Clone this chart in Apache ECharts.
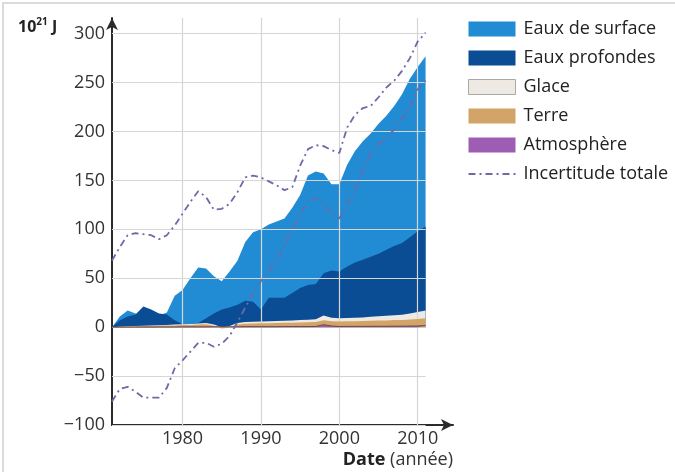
<!DOCTYPE html>
<html><head><meta charset="utf-8">
<script src="https://cdn.jsdelivr.net/npm/echarts@6/dist/echarts.min.js"></script>
<style>html,body{margin:0;padding:0;background:#fff}#c{width:675px;height:472px}</style>
</head><body><div id="c"></div><script>
// ---- data (10^21 J) ----
const years = [1971,1972,1973,1974,1975,1976,1977,1978,1979,1980,
  1981,1982,1983,1984,1985,1986,1987,1988,1989,1990,
  1991,1992,1993,1994,1995,1996,1997,1998,1999,2000,
  2001,2002,2003,2004,2005,2006,2007,2008,2009,2010,2011];
const atmosphere = [0,0,0,0.1,0.1,0.1,0.2,0.2,0.2,0.3,
  0.3,0.3,0.3,0.4,0.4,0.4,0.4,0.5,0.5,0.5,
  0.5,0.5,0.6,0.6,0.6,0.6,0.7,2.5,1.2,0.7,
  0.8,0.8,0.8,0.9,0.9,0.9,1,1,1.1,1.2,1.6];
const land = [0,0.3,0.6,0.8,1,1.1,1.2,1.4,1.6,1.8,
  2,2.4,2.8,1,-1.8,-0.8,2.2,3,3.2,3.4,
  3.6,3.7,3.8,4,4.2,4.4,4.6,4.5,4.9,5.1,
  5.2,5.3,5.4,5.6,5.8,6,6.2,6.4,6.8,7.2,7.5];
const ice = [0,0.1,0.2,0.3,0.4,0.5,0.6,0.7,0.8,0.9,
  1,1.1,1.2,1.3,1.4,1.5,1.6,1.7,1.8,1.9,
  2,2.1,2.2,2.3,2.4,2.5,2.7,5,3.5,3.2,
  3.4,3.6,3.8,4.1,4.4,4.7,5,5.4,6,7,8];
const deep = [0,6.6,10.2,11.8,19.5,16.3,12,10.7,4.4,0,
  0,0.5,4.7,11.3,18,18.9,18.8,21.8,20.5,12.2,
  23.9,23.7,23.4,28.1,32.8,35.5,36,43,48.4,48,
  52.6,56.3,59,61.4,63.9,67.4,70.8,73.2,78.1,82.6,85.9];
const surface = [0,4,6,1,-9,-6,-2,2,25,35,
  46.7,56.7,51,38,29,37,45,60,71,82,
  75,78,81,87,95,112,115,102,88,89,
  104,114,121,126,133,137,143,152,162,168,174];
const uncertHigh = [68,82,94,96,95,94,90,94,104,116,
  128,139,133,120,121,126,138,153,155,153,
  149,145,140,143,165,182,186,185,181,178,
  204,217,224,226,235,245,252,262,275,292,301];
const uncertLow = [-76,-63,-61,-66,-72,-72,-72,-62,-42,-34,
  -25,-16,-16,-20,-17,-9,5,20,35,47,
  58,68,84,100,116,129,132,126,116,111,
  125,140,160,178,187,194,202,213,225,243,252];
const yTicks = [-100,-50,0,50,100,150,200,250,300];
const xTicks = [1980,1990,2000,2010];
const names = ['Eaux de surface','Eaux profondes','Glace','Terre','Atmosphère','Incertitude totale'];

// ---- build ----
const FONT = '"Open Sans", "Noto Sans", sans-serif';
const cum = (...arrs) => years.map((y, i) => arrs.reduce((s, a) => s + a[i], 0));
const atmTop = cum(atmosphere);
const landTop = cum(atmosphere, land);
const iceTop = cum(atmosphere, land, ice);
const deepTop = cum(atmosphere, land, ice, deep);
const totalTop = cum(atmosphere, land, ice, deep, surface);
const pts = arr => years.map((y, i) => [y, +arr[i].toFixed(2)]);

const C = {surf:'#218bd3', deep:'#0b4d95', ice:'#eeeae3', land:'#d3a467', atm:'#9c5db3', unc:'#6c6aa8', grid:'#d6d6d6', axis:'#2b2b2b'};

function area(name, arr, color, z, line) {
  return {name, type:'line', data:pts(arr), symbol:'none', silent:true, z,
    lineStyle: line || {width:0}, itemStyle:{color}, areaStyle:{color, opacity:1}};
}
const unc = arr => ({name:names[5], type:'line', data:pts(arr), symbol:'none', silent:true, z:10,
  itemStyle:{color:C.unc}, lineStyle:{color:C.unc, width:1.8, type:[7,4,2,4]}});

const gridLines = [];
yTicks.forEach(v => gridLines.push([{coord:[years[0], v]}, {coord:[years[years.length-1], v]}]));
xTicks.forEach(v => gridLines.push([{coord:[v, -100]}, {coord:[v, 316]}]));

const dashIcon = 'path://M0,0h7v2h-7zM11,0h2v2h-2zM17,0h7v2h-7zM28,0h2v2h-2zM34,0h7v2h-7zM45,0h2v2h-2z';

const chart = echarts.init(document.getElementById('c'), null, {renderer:'canvas'});
chart.setOption({
  animation:false,
  backgroundColor:'#fff',
  grid:{left:112, right:222, top:18, bottom:47},
  xAxis:{type:'value', min:1971, max:2014.5,
    axisLine:{show:true, onZero:false, symbol:['none','arrow'], symbolSize:[9,12], lineStyle:{color:C.axis, width:2}},
    axisTick:{show:false}, splitLine:{show:false},
    axisLabel:{customValues:xTicks, formatter:v => String(v), fontSize:18, color:'#333', margin:5, fontFamily:FONT}},
  yAxis:{type:'value', min:-100, max:316,
    axisLine:{show:true, onZero:false, symbol:['none','arrow'], symbolSize:[9,12], lineStyle:{color:C.axis, width:2}},
    axisTick:{show:false}, splitLine:{show:false},
    axisLabel:{customValues:yTicks, formatter:v => String(v).replace('-', '\u2212'), fontSize:18, color:'#333', margin:7, fontFamily:FONT}},
  legend:{orient:'vertical', left:463, top:14, itemWidth:47, itemHeight:15, itemGap:9,
    textStyle:{fontSize:18, color:'#222', fontFamily:FONT, lineHeight:20, padding:[0,0,0,3]},
    data:[
      {name:names[0], icon:'rect'},
      {name:names[1], icon:'rect'},
      {name:names[2], icon:'rect', itemStyle:{borderColor:'#a8a8a8', borderWidth:1}},
      {name:names[3], icon:'rect'},
      {name:names[4], icon:'rect'},
      {name:names[5], icon:dashIcon}
    ]},
  series:[
    {type:'line', data:[], silent:true, z:1,
      markLine:{silent:true, symbol:['none','none'], label:{show:false}, animation:false,
        lineStyle:{color:C.grid, width:1.2, type:'solid'}, data:gridLines}},
    area(names[0], totalTop, C.surf, 2),
    area(names[1], deepTop, C.deep, 3),
    area(names[2], iceTop, C.ice, 4),
    area(names[3], landTop, C.land, 5),
    area(names[4], atmTop, C.atm, 6, {width:1, color:'#6a4a45'}),
    unc(uncertHigh),
    unc(uncertLow)
  ],
  graphic:[
    {type:'rect', shape:{x:3, y:3, width:720, height:520}, style:{fill:null, stroke:'#cfcfcf', lineWidth:1.5}, silent:true, z:-1},
    {type:'text', x:18, y:27, silent:true, style:{
      text:'{a|10}{s|21}{a| J}', verticalAlign:'middle', align:'left',
      rich:{a:{fontSize:16, fontWeight:'bold', fontFamily:FONT, fill:'#222'},
            s:{fontSize:10, fontWeight:'bold', fontFamily:FONT, fill:'#222', padding:[0,0,9,0]}}}},
    {type:'text', x:453, y:460, silent:true, style:{
      text:'{b|Date}{r| (année)}', verticalAlign:'middle', align:'right',
      rich:{b:{fontSize:18, fontWeight:'bold', fontFamily:FONT, fill:'#222'},
            r:{fontSize:18, fontFamily:FONT, fill:'#333'}}}}
  ]
});
</script></body></html>
